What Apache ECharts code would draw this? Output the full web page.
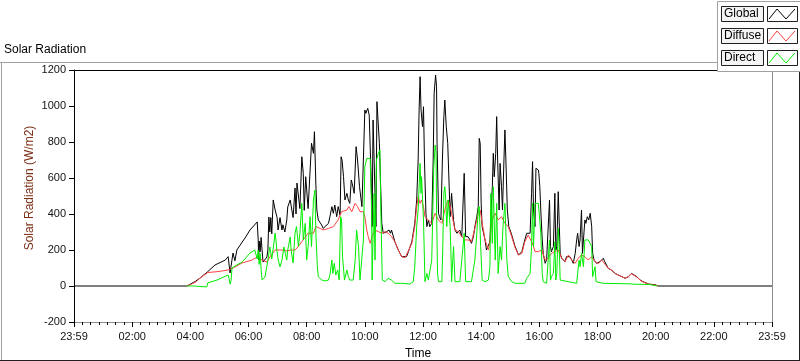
<!DOCTYPE html>
<html>
<head>
<meta charset="utf-8">
<script src="https://cdn.jsdelivr.net/npm/echarts@6/dist/echarts.min.js"></script>
<style>
html,body{margin:0;padding:0;background:#fff;}
#chart{width:800px;height:361px;}
</style>
</head>
<body>
<div id="chart"></div>
<script>
// ---- Data (time in minutes since midnight, values in W/m2) ----
const seriesNames = ['Global', 'Diffuse', 'Direct'];
const seriesColors = ['#000000', '#ff4040', '#00ee00'];

const globalTime = [0,233,250,260,276,291,312,318,322,324,328,332,336,347,353,363,378,380,381,382,384,386,388,390,394,398,400,402,404,406,408,411,415,419,421,425,429,431,435,439,441,446,448,452,456,458,460,463,466,470,473,475,478,480,483,487,490,494,496,499,501,504,511,514,518,525,528,532,535,538,542,545,549,551,553,556,559,563,566,569,572,574,578,582,585,589,594,597,600,602,606,609,611,613,615,617,621,623,625,628,630,632,635,638,645,650,653,655,662,669,676,679,686,690,697,703,707,710,712,714,716,719,721,723,726,728,731,734,738,741,743,746,748,749,752,754,757,760,763,765,768,771,774,776,779,783,786,790,796,800,803,805,808,813,817,820,824,827,831,834,836,838,840,842,848,851,855,858,860,863,865,867,870,872,874,877,879,882,884,887,889,891,894,897,902,906,910,913,917,924,930,934,937,941,944,946,948,951,953,956,958,959,961,963,966,968,972,975,978,981,983,985,989,992,994,996,999,1001,1003,1006,1013,1016,1020,1023,1027,1030,1034,1037,1039,1042,1044,1047,1049,1052,1054,1056,1059,1062,1065,1068,1070,1073,1078,1085,1089,1092,1095,1102,1109,1116,1123,1130,1137,1144,1150,1154,1161,1168,1174,1185,1199,1205,1440];
const globalValue = [0,0,25,44,80,117,144,163,72,110,183,140,200,244,267,311,356,256,144,250,190,270,200,133,135,161,200,383,300,380,290,478,422,380,311,380,311,340,300,367,439,478,478,380,544,400,572,500,430,718,626,420,607,617,430,441,793,737,857,560,422,367,339,320,330,348,385,441,404,450,385,441,394,718,700,607,478,515,478,459,589,570,515,774,700,552,441,700,978,959,987,950,959,607,330,922,515,330,1024,1015,793,607,348,293,302,311,293,311,246,200,163,154,163,191,246,348,478,700,978,1163,978,885,996,700,404,330,367,330,348,700,1070,1172,1107,793,404,385,367,700,941,1033,885,793,552,385,515,367,311,293,311,274,283,626,274,274,256,237,274,330,385,441,820,793,459,330,256,200,200,246,385,552,737,607,737,941,700,422,681,552,422,700,867,700,422,330,293,256,219,200,172,191,256,293,283,293,515,691,422,330,654,644,644,626,552,422,256,181,126,144,154,478,219,191,219,515,200,219,524,533,181,154,135,163,172,163,144,126,181,256,293,219,256,422,181,181,367,348,385,367,404,330,181,144,126,135,144,154,135,98,89,70,61,52,43,52,70,70,52,33,24,11,7,0,0];

const diffuseTime = [233,250,260,276,297,318,328,347,367,378,388,398,404,415,429,439,448,456,462,470,483,494,499,508,514,525,535,545,552,556,563,567,573,580,585,590,597,600,604,607,611,615,621,628,635,642,648,655,662,669,676,683,697,703,707,710,714,717,721,724,731,738,745,748,752,759,765,769,772,776,779,786,793,800,807,813,820,827,834,838,841,848,855,858,862,869,872,875,882,889,896,903,910,917,924,930,937,941,944,948,951,958,965,972,978,985,992,999,1006,1013,1020,1027,1034,1040,1047,1054,1061,1068,1075,1082,1089,1092,1102,1109,1116,1123,1130,1137,1144,1150,1154,1161,1168,1174,1185,1199,1205];
const diffuseValue = [0,20,44,75,80,89,100,128,144,161,144,133,161,200,200,195,200,200,217,246,293,293,330,320,311,320,330,367,413,404,422,441,413,459,441,413,413,385,311,274,237,274,311,302,293,302,293,274,246,200,163,157,237,330,441,496,459,478,441,385,367,348,404,394,367,348,422,459,478,441,404,311,302,274,256,256,246,320,404,422,367,256,200,246,367,404,385,367,385,348,330,274,213,172,181,246,283,274,246,219,191,191,200,144,154,181,191,200,154,135,172,144,126,154,172,163,144,163,135,126,144,154,98,89,70,61,52,43,52,68,68,50,33,22,10,5,0];

const directTime = [233,250,260,274,276,295,318,320,322,324,326,336,347,363,373,378,380,382,384,386,388,394,400,404,408,415,419,421,425,429,433,439,441,446,448,452,456,459,463,466,470,473,477,480,483,487,490,494,497,499,502,504,511,518,525,528,532,534,537,540,544,547,550,552,554,558,563,566,569,576,580,583,587,590,594,597,600,604,611,614,615,619,621,624,628,631,633,636,642,648,652,655,662,676,693,700,703,707,710,714,716,717,721,723,724,728,731,734,738,740,742,745,747,748,750,752,759,761,763,765,767,769,772,776,778,779,783,786,796,800,805,808,820,827,831,834,836,839,842,848,855,858,860,863,865,869,872,875,879,882,885,889,893,896,903,910,930,934,941,944,946,948,951,958,961,963,966,968,975,978,981,983,985,989,992,994,996,999,1001,1003,1007,1037,1039,1042,1044,1047,1051,1054,1061,1065,1068,1070,1075,1077,1081,1092,1147,1151,1155,1188,1203];
const directValue = [0,0,-3,-5,17,33,61,40,10,30,100,117,133,183,200,150,200,120,180,90,33,50,144,217,150,294,190,150,106,144,217,144,200,272,200,128,294,330,219,293,459,256,348,144,219,385,219,478,533,293,107,52,33,28,33,61,144,70,126,61,89,33,385,367,163,33,89,52,33,33,144,311,219,33,33,256,663,709,709,422,33,515,144,700,737,756,422,33,24,43,52,33,15,15,11,24,107,330,422,681,515,607,367,144,24,70,33,24,144,385,644,783,737,422,70,24,24,237,515,552,478,330,478,330,144,24,219,24,24,33,293,24,24,144,293,422,441,219,33,24,33,107,515,237,552,144,459,70,219,144,330,459,144,52,24,15,15,43,70,219,459,219,459,459,450,293,70,24,15,15,256,33,52,70,246,33,70,320,219,33,24,15,70,144,107,181,107,256,256,246,219,52,107,24,15,15,12,18,10,8,0];

const yMin = -200, yMax = 1200, yStep = 200;
const xMin = 0, xMax = 1440, xStep = 120;

function pairs(t, v) { return t.map((x, i) => [x, v[i]]); }
const seriesData = [pairs(globalTime, globalValue), pairs(diffuseTime, diffuseValue), pairs(directTime, directValue)];

function timeLabel(v) {
  if (v <= xMin || v >= xMax) return '23:59';
  const h = Math.floor(v / 60), m = Math.round(v % 60);
  return String(h).padStart(2, '0') + ':' + String(m).padStart(2, '0');
}

const font = 'Liberation Sans, Arial, sans-serif';

// legend built from series names
const legendGraphics = [];
seriesNames.forEach((name, i) => {
  const top = 6 + i * 22;
  legendGraphics.push({
    type: 'rect', z: 110, shape: { x: 721.5, y: top + 0.5, width: 42, height: 15 },
    style: { fill: '#f4f4f4', stroke: '#202020', lineWidth: 1 }
  });
  legendGraphics.push({
    type: 'text', z: 111, x: 724, y: top + 8,
    style: { text: name, fill: '#000', font: '12px ' + font, textVerticalAlign: 'middle', verticalAlign: 'middle' }
  });
  legendGraphics.push({
    type: 'rect', z: 110, shape: { x: 767.5, y: top + 0.5, width: 30, height: 15 },
    style: { fill: '#ffffff', stroke: '#202020', lineWidth: 1 }
  });
  legendGraphics.push({
    type: 'polyline', z: 111,
    shape: { points: [[769, top + 13], [777, top + 3], [786, top + 13], [795, top + 3]] },
    style: { stroke: seriesColors[i], lineWidth: 1, fill: null }
  });
});

const chart = echarts.init(document.getElementById('chart'), null, { renderer: 'canvas' });
chart.setOption({
  animation: false,
  backgroundColor: '#ffffff',
  grid: { left: 74, right: 28, top: 70, bottom: 39, containLabel: false },
  xAxis: [{
    type: 'value', position: 'bottom', min: xMin, max: xMax, interval: xStep,
    axisLine: { show: true, onZero: false, lineStyle: { color: '#8c8c8c', width: 1 } },
    axisTick: { show: true, length: 5, lineStyle: { color: '#000' } },
    minorTick: { show: true, splitNumber: 7, length: 3, lineStyle: { color: '#000' } },
    splitLine: { show: false },
    axisLabel: { formatter: timeLabel, color: '#111', fontFamily: font, fontSize: 11, margin: 9 }
  }, {
    type: 'value', position: 'top', min: xMin, max: xMax,
    axisLine: { show: true, onZero: false, lineStyle: { color: '#000', width: 1 } },
    axisTick: { show: false }, axisLabel: { show: false }, splitLine: { show: false }
  }],
  yAxis: [{
    type: 'value', position: 'left', min: yMin, max: yMax, interval: yStep,
    axisLine: { show: true, onZero: false, lineStyle: { color: '#000', width: 1 } },
    axisTick: { show: true, length: 5, lineStyle: { color: '#000' } },
    splitLine: { show: false },
    axisLabel: { formatter: v => String(v), color: '#111', fontFamily: font, fontSize: 11, margin: 8 }
  }, {
    type: 'value', position: 'right', min: yMin, max: yMax,
    axisLine: { show: true, onZero: false, lineStyle: { color: '#8c8c8c', width: 1 } },
    axisTick: { show: false }, axisLabel: { show: false }, splitLine: { show: false }
  }],
  series: seriesNames.map((name, i) => ({
    name: name, type: 'line', data: seriesData[i], showSymbol: false, symbol: 'none',
    xAxisIndex: 0, yAxisIndex: 0, z: 2 + i,
    lineStyle: { color: seriesColors[i], width: 1 }, itemStyle: { color: seriesColors[i] }
  })),
  graphic: [
    { type: 'line', z: 100, shape: { x1: 0, y1: 62.5, x2: 800, y2: 62.5 }, style: { stroke: '#a0a0a0', lineWidth: 1 } },
    { type: 'line', z: 100, shape: { x1: 1.5, y1: 62, x2: 1.5, y2: 361 }, style: { stroke: '#a0a0a0', lineWidth: 1 } },
    { type: 'line', z: 100, shape: { x1: 0, y1: 360.5, x2: 800, y2: 360.5 }, style: { stroke: '#202020', lineWidth: 1 } },
    { type: 'line', z: 100, shape: { x1: 799.5, y1: 62, x2: 799.5, y2: 361 }, style: { stroke: '#202020', lineWidth: 1 } },
    { type: 'text', z: 100, x: 4, y: 50, style: { text: 'Solar Radiation', fill: '#000', font: '12px ' + font, verticalAlign: 'middle', textVerticalAlign: 'middle' } },
    { type: 'text', z: 100, x: 418, y: 354, style: { text: 'Time', fill: '#000', font: '12px ' + font, align: 'center', textAlign: 'center', verticalAlign: 'middle', textVerticalAlign: 'middle' } },
    { type: 'text', z: 100, x: 30, y: 188, rotation: Math.PI / 2, style: { text: 'Solar Radiation (W/m2)', fill: '#7a2e14', font: '12px ' + font, align: 'center', textAlign: 'center', verticalAlign: 'middle', textVerticalAlign: 'middle' } },
    { type: 'rect', z: 105, shape: { x: 717.5, y: 1.5, width: 84, height: 70 }, style: { fill: '#ffffff', stroke: '#a0a0a0', lineWidth: 1 } }
  ].concat(legendGraphics)
});
</script>
</body>
</html>
